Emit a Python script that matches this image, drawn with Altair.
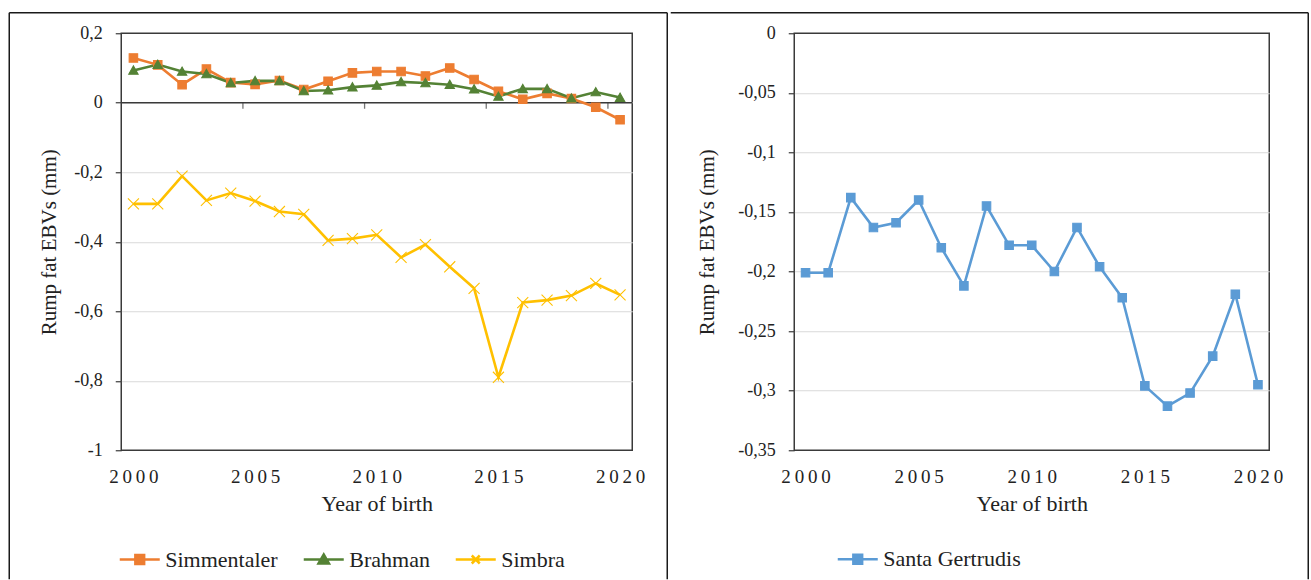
import altair as alt
import pandas as pd

# ---- data -------------------------------------------------------------
years = list(range(2000, 2021))

simmentaler = [0.129, 0.109, 0.052, 0.097, 0.058, 0.053, 0.064, 0.038, 0.062, 0.086, 0.090,
               0.090, 0.077, 0.100, 0.067, 0.033, 0.010, 0.027, 0.012, -0.013, -0.049]
brahman = [0.093, 0.110, 0.090, 0.083, 0.057, 0.063, 0.063, 0.034, 0.036, 0.045, 0.050,
           0.060, 0.057, 0.052, 0.039, 0.018, 0.040, 0.040, 0.013, 0.031, 0.015]
simbra = [-0.291, -0.291, -0.211, -0.281, -0.260, -0.283, -0.313, -0.321, -0.396, -0.391, -0.380,
          -0.445, -0.408, -0.472, -0.534, -0.790, -0.575, -0.568, -0.555, -0.520, -0.553]
santa_gertrudis = [-0.201, -0.201, -0.138, -0.163, -0.159, -0.140, -0.180, -0.212, -0.145, -0.178, -0.178,
                   -0.200, -0.163, -0.196, -0.222, -0.296, -0.313, -0.302, -0.271, -0.219, -0.295]

left_series = ["Simmentaler", "Brahman", "Simbra"]
left_colors = ["#ED7D31", "#548235", "#FFC000"]
right_series = ["Santa Gertrudis"]
right_colors = ["#5B9BD5"]

year_labels = [2000, 2005, 2010, 2015, 2020]
between_ticks = [2004.5, 2009.5, 2014.5, 2019.5]
left_y_ticks = [0.2, 0, -0.2, -0.4, -0.6, -0.8, -1]
right_y_ticks = [0, -0.05, -0.1, -0.15, -0.2, -0.25, -0.3, -0.35]

# marker shapes (unit-box SVG paths) and legend keys (a short line with the marker on it)
SQUARE = "M-1,-1H1V1H-1Z"
TRIANGLE = "M-1.1,0.9L0,-1.05L1.1,0.9Z"
CROSS = "M-1.3,-1.3L1.3,1.3M-1.3,1.3L1.3,-1.3"
left_shapes = [SQUARE, TRIANGLE, CROSS]
left_keys = [
    "M-1,0H1M-0.22,-0.22H0.22V0.22H-0.22Z",
    "M-1,0H1M-0.26,0.2L0,-0.25L0.26,0.2Z",
    "M-1,0H1M-0.2,-0.2L0.2,0.2M-0.2,0.2L0.2,-0.2",
]
right_shapes = [SQUARE]
right_keys = ["M-1,0H1M-0.22,-0.22H0.22V0.22H-0.22Z"]

FONT = "Liberation Serif"
TEXT = "#222222"
DARK = "#3a3a3a"
FRAME = "#1a1a1a"
H = 417


def long_table(series, values):
    rows = []
    for name, vals in zip(series, values):
        for yr, v in zip(years, vals):
            rows.append({"year": yr, "value": v, "series": name})
    return pd.DataFrame(rows)


def panel(df, series, colors, shapes, keys, y_domain, y_ticks, width,
          frame_left, frame_right, frame_top, frame_bottom, left_edge_visible,
          legend_x, legend_y, title_pad, zero_axis):
    x_enc = alt.X(
        "year:Q",
        title="Year of birth",
        scale=alt.Scale(domain=[1999.5, 2020.5], nice=False, zero=False),
        axis=alt.Axis(values=year_labels, tickSize=0, grid=False, domain=False,
                      labelExpr="join(split(toString(datum.value), ''), '\u2009')",
                      labelFont=FONT, labelFontSize=19, labelPadding=17,
                      titleFont=FONT, titlePadding=7, titleFontSize=22),
    )
    y_enc = alt.Y(
        "value:Q",
        title="Rump fat EBVs (mm)",
        scale=alt.Scale(domain=y_domain, nice=False, zero=False),
        axis=alt.Axis(values=y_ticks, domain=False, tickSize=6, tickWidth=1.2,
                      labelFont=FONT, labelPadding=13, labelFontSize=18,
                      labelExpr="replace(toString(datum.value), '.', ',')",
                      gridColor="#d9d9d9", gridWidth=1.2,
                      gridOpacity={"condition": {
                          "test": f"abs(datum.value - ({y_domain[0]})) < 1e-9 || abs(datum.value - ({y_domain[1]})) < 1e-9",
                          "value": 0}, "value": 1},
                      titleFont=FONT, titleFontSize=21, titlePadding=title_pad),
    )

    blank = alt.Data(values=[{}])
    frame = [
        alt.Chart(blank).mark_rule(color=FRAME, strokeWidth=1.5,
                                   strokeOpacity=1 if left_edge_visible else 0).encode(
            x=alt.value(frame_left), y=alt.value(frame_top), y2=alt.value(frame_bottom)),
        alt.Chart(blank).mark_rule(color=FRAME, strokeWidth=1.5).encode(
            x=alt.value(frame_left), x2=alt.value(frame_right), y=alt.value(frame_top)),
        alt.Chart(blank).mark_rule(color=FRAME, strokeWidth=1.5).encode(
            x=alt.value(frame_right), y=alt.value(frame_top), y2=alt.value(frame_bottom)),
    ]

    layers = list(frame)

    if zero_axis:
        zero = alt.Chart(pd.DataFrame({"value": [0]})).mark_rule(
            color=DARK, strokeWidth=1.5).encode(y=y_enc)
        ticks = alt.Chart(pd.DataFrame({"year": between_ticks, "value": [0] * len(between_ticks)})).mark_tick(
            orient="vertical", size=6, thickness=1.3, color=DARK, yOffset=3
        ).encode(x=x_enc, y=y_enc)
        layers += [zero, ticks]

    lines = alt.Chart(df).mark_line(strokeWidth=2.6).encode(
        x=x_enc, y=y_enc,
        color=alt.Color("series:N", scale=alt.Scale(domain=series, range=colors), legend=None),
    )
    points = alt.Chart(df).mark_point(filled=True, opacity=1, strokeWidth=1.1, size=72).encode(
        x=x_enc, y=y_enc,
        shape=alt.Shape("series:N", scale=alt.Scale(domain=series, range=shapes), legend=None),
        fill=alt.Fill("series:N", scale=alt.Scale(domain=series, range=colors), legend=None),
        stroke=alt.Stroke("series:N", scale=alt.Scale(domain=series, range=colors), legend=None),
    )

    leg = alt.Legend(
        orient="none", legendX=legend_x, legendY=legend_y, direction="horizontal",
        title=None, labelFont=FONT, labelFontSize=22, labelColor=TEXT,
        symbolSize=1600, symbolStrokeWidth=2.5, columnPadding=20, labelOffset=4,
        padding=0,
    )
    key_df = pd.DataFrame({"series": series})
    legend_layer = alt.Chart(key_df).transform_filter("false").mark_point(
        filled=True, opacity=1).encode(
        shape=alt.Shape("series:N", scale=alt.Scale(domain=series, range=keys), legend=leg),
        fill=alt.Fill("series:N", scale=alt.Scale(domain=series, range=colors), legend=leg),
        stroke=alt.Stroke("series:N", scale=alt.Scale(domain=series, range=colors), legend=leg),
    )

    layers += [lines, points, legend_layer]
    return alt.layer(*layers).resolve_scale(
        shape="independent", fill="independent", stroke="independent"
    ).properties(width=width, height=H)


left_df = long_table(left_series, [simmentaler, brahman, simbra])
right_df = long_table(right_series, [santa_gertrudis])

left = panel(left_df, left_series, left_colors, left_shapes, left_keys,
             [-1, 0.2], left_y_ticks, 511,
             frame_left=-112, frame_right=546, frame_top=-20.5, frame_bottom=546,
             left_edge_visible=True,
             legend_x=-3, legend_y=504.5, title_pad=14, zero_axis=True)
right = panel(right_df, right_series, right_colors, right_shapes, right_keys,
              [-0.35, 0], right_y_ticks, 475,
              frame_left=-123.5, frame_right=514, frame_top=-20.5, frame_bottom=546,
              left_edge_visible=False,
              legend_x=42, legend_y=504.5, title_pad=20, zero_axis=False)

chart = alt.hconcat(left, right, spacing=0).resolve_scale(
    color="independent", fill="independent", stroke="independent", shape="independent",
).configure(
    background="white",
    padding={"left": 7.25, "top": 11.25, "right": 0, "bottom": 0},
    autosize=alt.AutoSizeParams(type="pad"),
).configure_view(
    stroke=DARK, strokeWidth=1.5,
).configure_axis(
    labelFont=FONT, titleFont=FONT, labelColor=TEXT, titleColor=TEXT,
    titleFontWeight="normal", tickColor=DARK,
)

chart.save("out.html", embed_options={"renderer": "svg", "actions": False})
